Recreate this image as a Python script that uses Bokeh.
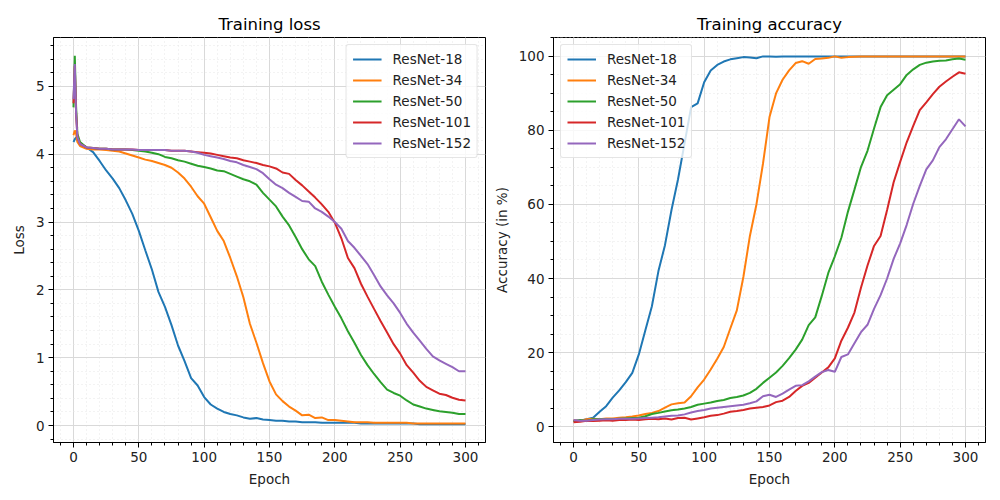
from bokeh.plotting import figure
from bokeh.layouts import row
from bokeh.models import Range1d, SingleIntervalTicker, Legend, LegendItem
from bokeh.embed import file_html
from bokeh.resources import INLINE

FONT = "DejaVu Sans"
COLORS = ["#1f77b4", "#ff7f0e", "#2ca02c", "#d62728", "#9467bd"]
NAMES = ["ResNet-18", "ResNet-34", "ResNet-50", "ResNet-101", "ResNet-152"]

loss_epochs = [0, 1, 2, 3] + list(range(5, 301, 5))
acc_epochs = list(range(0, 301, 5))

loss_r18 = [4.18, 4.22, 4.25, 4.20,
            4.16, 4.10, 4.03, 3.90, 3.76, 3.64, 3.50, 3.32, 3.12, 2.87,
            2.58, 2.30, 1.97, 1.75, 1.48, 1.18, 0.95, 0.70, 0.59, 0.42,
            0.31, 0.25, 0.20, 0.17, 0.15, 0.12, 0.10, 0.11, 0.09, 0.08,
            0.07, 0.07, 0.06, 0.06, 0.05, 0.05, 0.05, 0.04, 0.04, 0.04,
            0.04, 0.04, 0.04, 0.03, 0.03, 0.03, 0.03, 0.03, 0.03, 0.03,
            0.03, 0.03, 0.02, 0.02, 0.02, 0.02, 0.02, 0.02, 0.02, 0.02]
loss_r34 = [4.28, 4.35, 4.30, 4.18,
            4.12, 4.08, 4.07, 4.07, 4.06, 4.05, 4.04, 4.01, 3.98, 3.95,
            3.92, 3.90, 3.87, 3.84, 3.80, 3.73, 3.64, 3.52, 3.38, 3.27,
            3.07, 2.87, 2.72, 2.47, 2.20, 1.89, 1.50, 1.22, 0.92, 0.65,
            0.46, 0.36, 0.28, 0.22, 0.15, 0.16, 0.11, 0.12, 0.08, 0.08,
            0.07, 0.06, 0.05, 0.05, 0.05, 0.04, 0.04, 0.04, 0.04, 0.04,
            0.04, 0.03, 0.03, 0.03, 0.03, 0.03, 0.03, 0.03, 0.03, 0.03]
loss_r50 = [4.69, 5.45, 4.70, 4.30,
            4.18, 4.10, 4.09, 4.08, 4.08, 4.07, 4.07, 4.07, 4.06, 4.05,
            4.04, 4.02, 4.00, 3.96, 3.94, 3.91, 3.89, 3.86, 3.83, 3.81,
            3.79, 3.76, 3.75, 3.71, 3.67, 3.63, 3.60, 3.55, 3.43, 3.33,
            3.23, 3.08, 2.95, 2.78, 2.60, 2.45, 2.35, 2.12, 1.93, 1.75,
            1.58, 1.39, 1.22, 1.04, 0.89, 0.76, 0.64, 0.53, 0.48, 0.44,
            0.37, 0.31, 0.28, 0.25, 0.23, 0.21, 0.20, 0.19, 0.17, 0.17]
loss_r101 = [4.75, 5.30, 4.60, 4.25,
             4.15, 4.10, 4.09, 4.08, 4.08, 4.07, 4.07, 4.07, 4.07, 4.06,
             4.06, 4.06, 4.06, 4.06, 4.05, 4.05, 4.05, 4.04, 4.03, 4.02,
             4.01, 3.99, 3.97, 3.95, 3.94, 3.91, 3.89, 3.87, 3.84, 3.82,
             3.79, 3.73, 3.71, 3.62, 3.54, 3.45, 3.36, 3.26, 3.15, 2.99,
             2.76, 2.47, 2.32, 2.09, 1.90, 1.72, 1.54, 1.37, 1.20, 1.06,
             0.89, 0.78, 0.66, 0.57, 0.52, 0.47, 0.45, 0.41, 0.38, 0.37]
loss_r152 = [4.81, 5.33, 4.60, 4.25,
             4.15, 4.10, 4.09, 4.08, 4.08, 4.07, 4.07, 4.07, 4.07, 4.06,
             4.06, 4.06, 4.06, 4.06, 4.05, 4.05, 4.05, 4.04, 4.02, 3.99,
             3.97, 3.95, 3.93, 3.90, 3.88, 3.84, 3.81, 3.78, 3.72, 3.63,
             3.55, 3.50, 3.43, 3.37, 3.31, 3.30, 3.20, 3.15, 3.08, 3.00,
             2.90, 2.72, 2.62, 2.50, 2.38, 2.22, 2.05, 1.92, 1.80, 1.66,
             1.50, 1.37, 1.25, 1.13, 1.02, 0.96, 0.91, 0.86, 0.80, 0.80]

acc_r18 = [1.5,
           1.6, 2.0, 2.4, 4.0, 5.5, 7.8, 9.8, 12.0, 14.5, 19.5,
           26.0, 32.5, 42.0, 49.0, 58.5, 66.8, 76.5, 86.3, 87.3, 93.0,
           96.2, 97.7, 98.6, 99.2, 99.5, 99.8, 99.7, 99.5, 100.0, 100.0,
           99.9, 100.0, 100.0, 100.0, 100.0, 100.0, 100.0, 100.0, 100.0, 100.0,
           100.0, 100.0, 100.0, 100.0, 100.0, 100.0, 100.0, 100.0, 100.0, 100.0,
           100.0, 100.0, 100.0, 100.0, 100.0, 100.0, 100.0, 100.0, 100.0, 100.0]
acc_r34 = [1.7,
           1.5, 2.0, 2.1, 2.0, 2.2, 2.2, 2.4, 2.5, 2.7, 3.0,
           3.4, 3.7, 4.2, 5.1, 6.0, 6.3, 6.5, 8.2, 10.6, 12.7,
           15.4, 18.3, 21.5, 26.5, 31.4, 40.4, 51.5, 60.0, 71.0, 83.6,
           90.0, 93.7, 96.2, 98.2, 98.7, 98.0, 99.3, 99.4, 99.6, 100.0,
           99.6, 99.8, 99.9, 100.0, 100.0, 100.0, 100.0, 100.0, 100.0, 100.0,
           100.0, 100.0, 100.0, 100.0, 100.0, 100.0, 100.0, 100.0, 100.0, 100.0]
acc_r50 = [1.5,
           1.8, 1.5, 2.0, 2.0, 2.0, 2.0, 2.1, 2.2, 2.3, 2.4,
           2.8, 3.4, 3.7, 4.1, 4.4, 4.6, 4.9, 5.3, 5.9, 6.2,
           6.5, 6.9, 7.2, 7.7, 8.0, 8.4, 9.1, 10.2, 11.8, 13.2,
           14.6, 16.4, 18.5, 20.8, 23.5, 27.4, 29.5, 35.3, 41.5, 46.0,
           51.0, 58.0, 64.0, 70.1, 74.5, 80.5, 86.3, 89.5, 91.0, 92.5,
           95.0, 96.5, 97.7, 98.3, 98.6, 98.8, 98.9, 99.2, 99.4, 99.1]
acc_r101 = [1.2,
            1.3, 1.6, 1.5, 1.6, 1.7, 1.6, 1.8, 1.8, 1.9, 1.8,
            2.0, 2.1, 2.0, 2.2, 1.9, 2.3, 2.4, 1.9, 2.2, 2.5,
            2.9, 3.1, 3.5, 4.0, 4.2, 4.5, 4.9, 5.1, 5.3, 5.7,
            6.6, 7.0, 8.0, 9.6, 11.0, 11.8, 13.2, 14.6, 16.0, 18.4,
            23.2, 26.7, 30.8, 37.5, 43.5, 48.8, 51.5, 58.5, 66.0, 71.5,
            76.8, 81.2, 85.5, 87.6, 89.8, 91.8, 93.2, 94.5, 95.7, 95.3]
acc_r152 = [1.8,
            1.6, 1.6, 1.8, 1.9, 2.0, 2.0, 2.1, 2.1, 2.1, 2.2,
            2.3, 2.4, 2.5, 2.7, 2.9, 3.0, 3.3, 3.8, 4.2, 4.5,
            4.9, 5.1, 5.3, 5.5, 5.7, 5.9, 6.3, 6.8, 8.2, 8.6,
            8.0, 8.9, 10.0, 11.0, 11.2, 12.2, 13.5, 14.7, 15.3, 14.8,
            18.8, 19.5, 22.5, 25.5, 27.5, 31.8, 35.5, 40.0, 45.3, 49.5,
            54.5, 60.2, 65.0, 69.5, 71.9, 75.5, 77.6, 80.3, 83.0, 81.1]

loss_series = [loss_r18, loss_r34, loss_r50, loss_r101, loss_r152]
acc_series = [acc_r18, acc_r34, acc_r50, acc_r101, acc_r152]


def style(p, title, xlabel, ylabel, y_interval, y_minor):
    p.title.text = title
    p.title.align = "center"
    p.title.text_font = FONT
    p.title.text_font_size = "16.5px"
    p.title.text_font_style = "normal"
    p.title.text_color = "black"
    p.title.standoff = 7
    p.outline_line_color = "black"
    p.outline_line_width = 1
    p.outline_line_alpha = 1
    p.background_fill_color = "white"
    p.border_fill_color = "white"
    p.xaxis.ticker = SingleIntervalTicker(interval=50, num_minor_ticks=5)
    p.yaxis.ticker = SingleIntervalTicker(interval=y_interval, num_minor_ticks=y_minor)
    for ax in (p.xaxis[0], p.yaxis[0]):
        ax.axis_line_color = "black"
        ax.major_tick_line_color = "black"
        ax.minor_tick_line_color = "black"
        ax.major_tick_in = 0
        ax.major_tick_out = 5
        ax.minor_tick_in = 0
        ax.minor_tick_out = 3
        ax.major_label_text_font = FONT
        ax.major_label_text_font_size = "13.5px"
        ax.major_label_text_color = "#222222"
        ax.axis_label_text_font = FONT
        ax.axis_label_text_font_size = "13.5px"
        ax.axis_label_text_font_style = "normal"
        ax.axis_label_text_color = "#222222"
        ax.major_label_standoff = 4
        ax.axis_label_standoff = 6
    p.xaxis.axis_label = xlabel
    p.yaxis.axis_label = ylabel
    for g in (p.xgrid[0], p.ygrid[0]):
        g.grid_line_color = "#d9d9d9"
        g.grid_line_width = 1
        g.minor_grid_line_color = "#e6e6e6"
        g.minor_grid_line_dash = "1 3"
        g.minor_grid_line_width = 1


def add_legend(p, renderers, loc):
    items = [LegendItem(label=n, renderers=[r]) for n, r in zip(NAMES, renderers)]
    leg = Legend(items=items, location=loc)
    leg.label_text_font = FONT
    leg.label_text_font_size = "13.5px"
    leg.label_text_color = "#222222"
    leg.glyph_width = 29
    leg.glyph_height = 16
    leg.spacing = 5
    leg.label_standoff = 11
    leg.padding = 6
    leg.margin = 7
    leg.border_line_color = "#cccccc"
    leg.border_line_width = 1
    leg.background_fill_color = "white"
    leg.background_fill_alpha = 0.8
    if "border_radius" in leg.properties():
        leg.border_radius = 3
    p.add_layout(leg, "center")


p1 = figure(frame_width=432, frame_height=405,
            min_border_left=53, min_border_right=5, min_border_top=37, min_border_bottom=42,
            x_range=Range1d(-15.3, 315.3), y_range=Range1d(-0.25, 5.72),
            output_backend="svg", toolbar_location=None)
style(p1, "Training loss", "Epoch", "Loss", 1, 5)
r1 = []
for ys, c in zip(loss_series, COLORS):
    r1.append(p1.line(loss_epochs, ys, line_color=c, line_width=2))
add_legend(p1, r1, "top_right")

p2 = figure(frame_width=432, frame_height=405,
            min_border_left=56, min_border_right=6, min_border_top=37, min_border_bottom=42,
            x_range=Range1d(-15.3, 315.3), y_range=Range1d(-4.3, 105.1),
            output_backend="svg", toolbar_location=None)
style(p2, "Training accuracy", "Epoch", "Accuracy (in %)", 20, 4)
r2 = []
for ys, c in zip(acc_series, COLORS):
    r2.append(p2.line(acc_epochs, ys, line_color=c, line_width=2))
add_legend(p2, r2, "top_left")

layout = row(p1, p2)
open("out.html", "w").write(file_html(layout, INLINE))
